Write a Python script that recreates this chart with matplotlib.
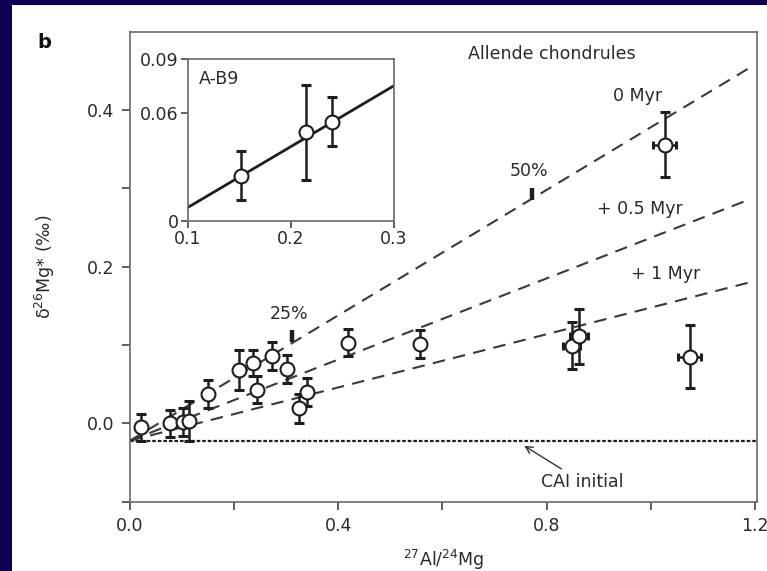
import matplotlib
matplotlib.use("Agg")
import matplotlib.pyplot as plt
from matplotlib.patches import Rectangle

# ---------------- data ----------------
al_mg = [0.021, 0.077, 0.102, 0.114, 0.149, 0.209, 0.237, 0.243, 0.272, 0.302,
         0.325, 0.340, 0.419, 0.557, 0.848, 0.862, 1.075, 1.027]
d26mg = [-0.005, 0.000, 0.002, 0.003, 0.037, 0.068, 0.077, 0.043, 0.086, 0.069,
         0.019, 0.040, 0.103, 0.101, 0.099, 0.111, 0.085, 0.356]
d26mg_err = [0.017, 0.017, 0.018, 0.026, 0.018, 0.026, 0.017, 0.017, 0.018, 0.018,
             0.018, 0.018, 0.017, 0.018, 0.030, 0.035, 0.040, 0.042]
al_mg_err = [0, 0, 0, 0, 0, 0, 0, 0, 0, 0, 0, 0, 0, 0, 0.017, 0.018, 0.022, 0.022]

# reference isochrons (start at CAI initial, end values at right)
iso_x = [0.0, 1.19]
iso_start = -0.022
iso_end = [0.454, 0.286, 0.180]
iso_labels = ["0 Myr", "+ 0.5 Myr", "+ 1 Myr"]
cai_initial = -0.022

pct_labels = ["25%", "50%"]
pct_x = [0.3105, 0.771]
pct_y = [0.111, 0.2927]

x_ticks = [0.0, 0.2, 0.4, 0.6, 0.8, 1.0, 1.2]
x_ticklabels = ["0.0", "", "0.4", "", "0.8", "", "1.2"]
y_ticks = [-0.1, 0.0, 0.1, 0.2, 0.3, 0.4]
y_ticklabels = ["", "0.0", "", "0.2", "", "0.4"]

# inset A-B9
ins_x = [0.151, 0.215, 0.240]
ins_y = [0.0252, 0.0494, 0.0553]
ins_err = [0.0135, 0.0265, 0.0135]
ins_fit_x = [0.1, 0.3]
ins_fit_y = [0.0076, 0.0753]
ins_xticks = [0.1, 0.2, 0.3]
ins_xticklabels = ["0.1", "0.2", "0.3"]
ins_yticks = [0.0, 0.06, 0.09]
ins_yticklabels = ["0", "0.06", "0.09"]

# ---------------- style ----------------
plt.rcParams['font.family'] = ['DejaVu Sans']
plt.rcParams['lines.scale_dashes'] = False
TXT = '#2a2a2a'
INK = '#1e1e1e'
SP = '#6a6a6a'
FS = 12.5
MS = 10

fig = plt.figure(figsize=(7.67, 5.71), dpi=100, facecolor='#0e0050')
fig.patches.append(Rectangle((12 / 767, 0), 755 / 767, 566 / 571,
                             transform=fig.transFigure, facecolor='white',
                             edgecolor='none', zorder=-5))

ax = fig.add_axes([130 / 767, 69.3 / 571, 627 / 767, 470 / 571])
ax.set_xlim(0, 1.204)
ax.set_ylim(-0.1, 0.5)
for s in ax.spines.values():
    s.set_color(SP)
    s.set_linewidth(1.2)
ax.set_xticks(x_ticks)
ax.set_xticklabels(x_ticklabels)
ax.set_yticks(y_ticks)
ax.set_yticklabels(y_ticklabels)
ax.tick_params(direction='out', length=6, width=1.2, color='#444444',
               labelsize=FS, labelcolor=TXT, pad=5)

# isochrons
for yend in iso_end:
    ax.plot(iso_x, [iso_start, yend], color='#3a3a3a', lw=1.5,
            dashes=(9, 6), zorder=2)
# CAI initial
ax.axhline(cai_initial, color=INK, lw=1.6, dashes=(2.6, 1.4), zorder=2)

# percent marks
ax.plot(pct_x, pct_y, linestyle='none', marker='|', markersize=8,
        markeredgewidth=3.2, color=INK, zorder=3)

# data with error bars
ax.errorbar(al_mg, d26mg, yerr=d26mg_err, fmt='none', ecolor=INK,
            elinewidth=1.8, capsize=3.6, capthick=2.2, zorder=4)
hx = [x for x, e in zip(al_mg, al_mg_err) if e > 0]
hy = [y for y, e in zip(d26mg, al_mg_err) if e > 0]
he = [e for e in al_mg_err if e > 0]
ax.errorbar(hx, hy, xerr=he, fmt='none', ecolor=INK,
            elinewidth=1.8, capsize=3.0, capthick=2.2, zorder=4)
ax.plot(al_mg, d26mg, linestyle='none', marker='o', markersize=MS,
        markerfacecolor='white', markeredgecolor=INK, markeredgewidth=1.5,
        zorder=5)

# text
ax.text(0.649, 0.471, "Allende chondrules", fontsize=FS, color=TXT,
        ha='left', va='center')
ax.text(0.927, 0.418, iso_labels[0], fontsize=FS, color=TXT, ha='left', va='center')
ax.text(0.896, 0.2735, iso_labels[1], fontsize=FS, color=TXT, ha='left', va='center')
ax.text(0.963, 0.1906, iso_labels[2], fontsize=FS, color=TXT, ha='left', va='center')
ax.text(0.269, 0.1395, pct_labels[0], fontsize=FS, color=TXT, ha='left', va='center')
ax.text(0.730, 0.322, pct_labels[1], fontsize=FS, color=TXT, ha='left', va='center')
ax.annotate("CAI initial", xy=(0.757, -0.0286), xytext=(0.79, -0.075),
            fontsize=FS, color=TXT, ha='left', va='center',
            arrowprops=dict(arrowstyle='->', color='#333333', lw=1.0,
                            shrinkA=2, shrinkB=0))

ax.set_xlabel(r'$^{27}$Al/$^{24}$Mg', fontsize=FS, color=TXT, labelpad=9)
ax.set_ylabel(r'δ$^{26}$Mg* (‰)', fontsize=FS, color=TXT, labelpad=22)

fig.text(44.5 / 767, 1 - 43 / 571, "b", fontsize=14, fontweight='bold',
         color='#111111', ha='center', va='center')

# inset
ins = fig.add_axes([188 / 767, 1 - 221 / 571, 206 / 767, 161.7 / 571])
ins.set_xlim(0.1, 0.3)
ins.set_ylim(0, 0.09)
for s in ins.spines.values():
    s.set_color(SP)
    s.set_linewidth(1.2)
ins.set_xticks(ins_xticks)
ins.set_xticklabels(ins_xticklabels)
ins.set_yticks(ins_yticks)
ins.set_yticklabels(ins_yticklabels)
ins.tick_params(direction='out', length=5, width=1.2, color='#444444',
                labelsize=FS, labelcolor=TXT, pad=1.5)
ins.plot(ins_fit_x, ins_fit_y, color=INK, lw=2.0, zorder=2)
ins.errorbar(ins_x, ins_y, yerr=ins_err, fmt='none', ecolor=INK,
             elinewidth=1.8, capsize=3.6, capthick=2.2, zorder=3)
ins.plot(ins_x, ins_y, linestyle='none', marker='o', markersize=MS,
         markerfacecolor='white', markeredgecolor=INK, markeredgewidth=1.5,
         zorder=4)
ins.text(0.053, 0.878, "A-B9", transform=ins.transAxes, fontsize=FS,
         color=TXT, ha='left', va='center')

fig.savefig("out.png", dpi=100)
